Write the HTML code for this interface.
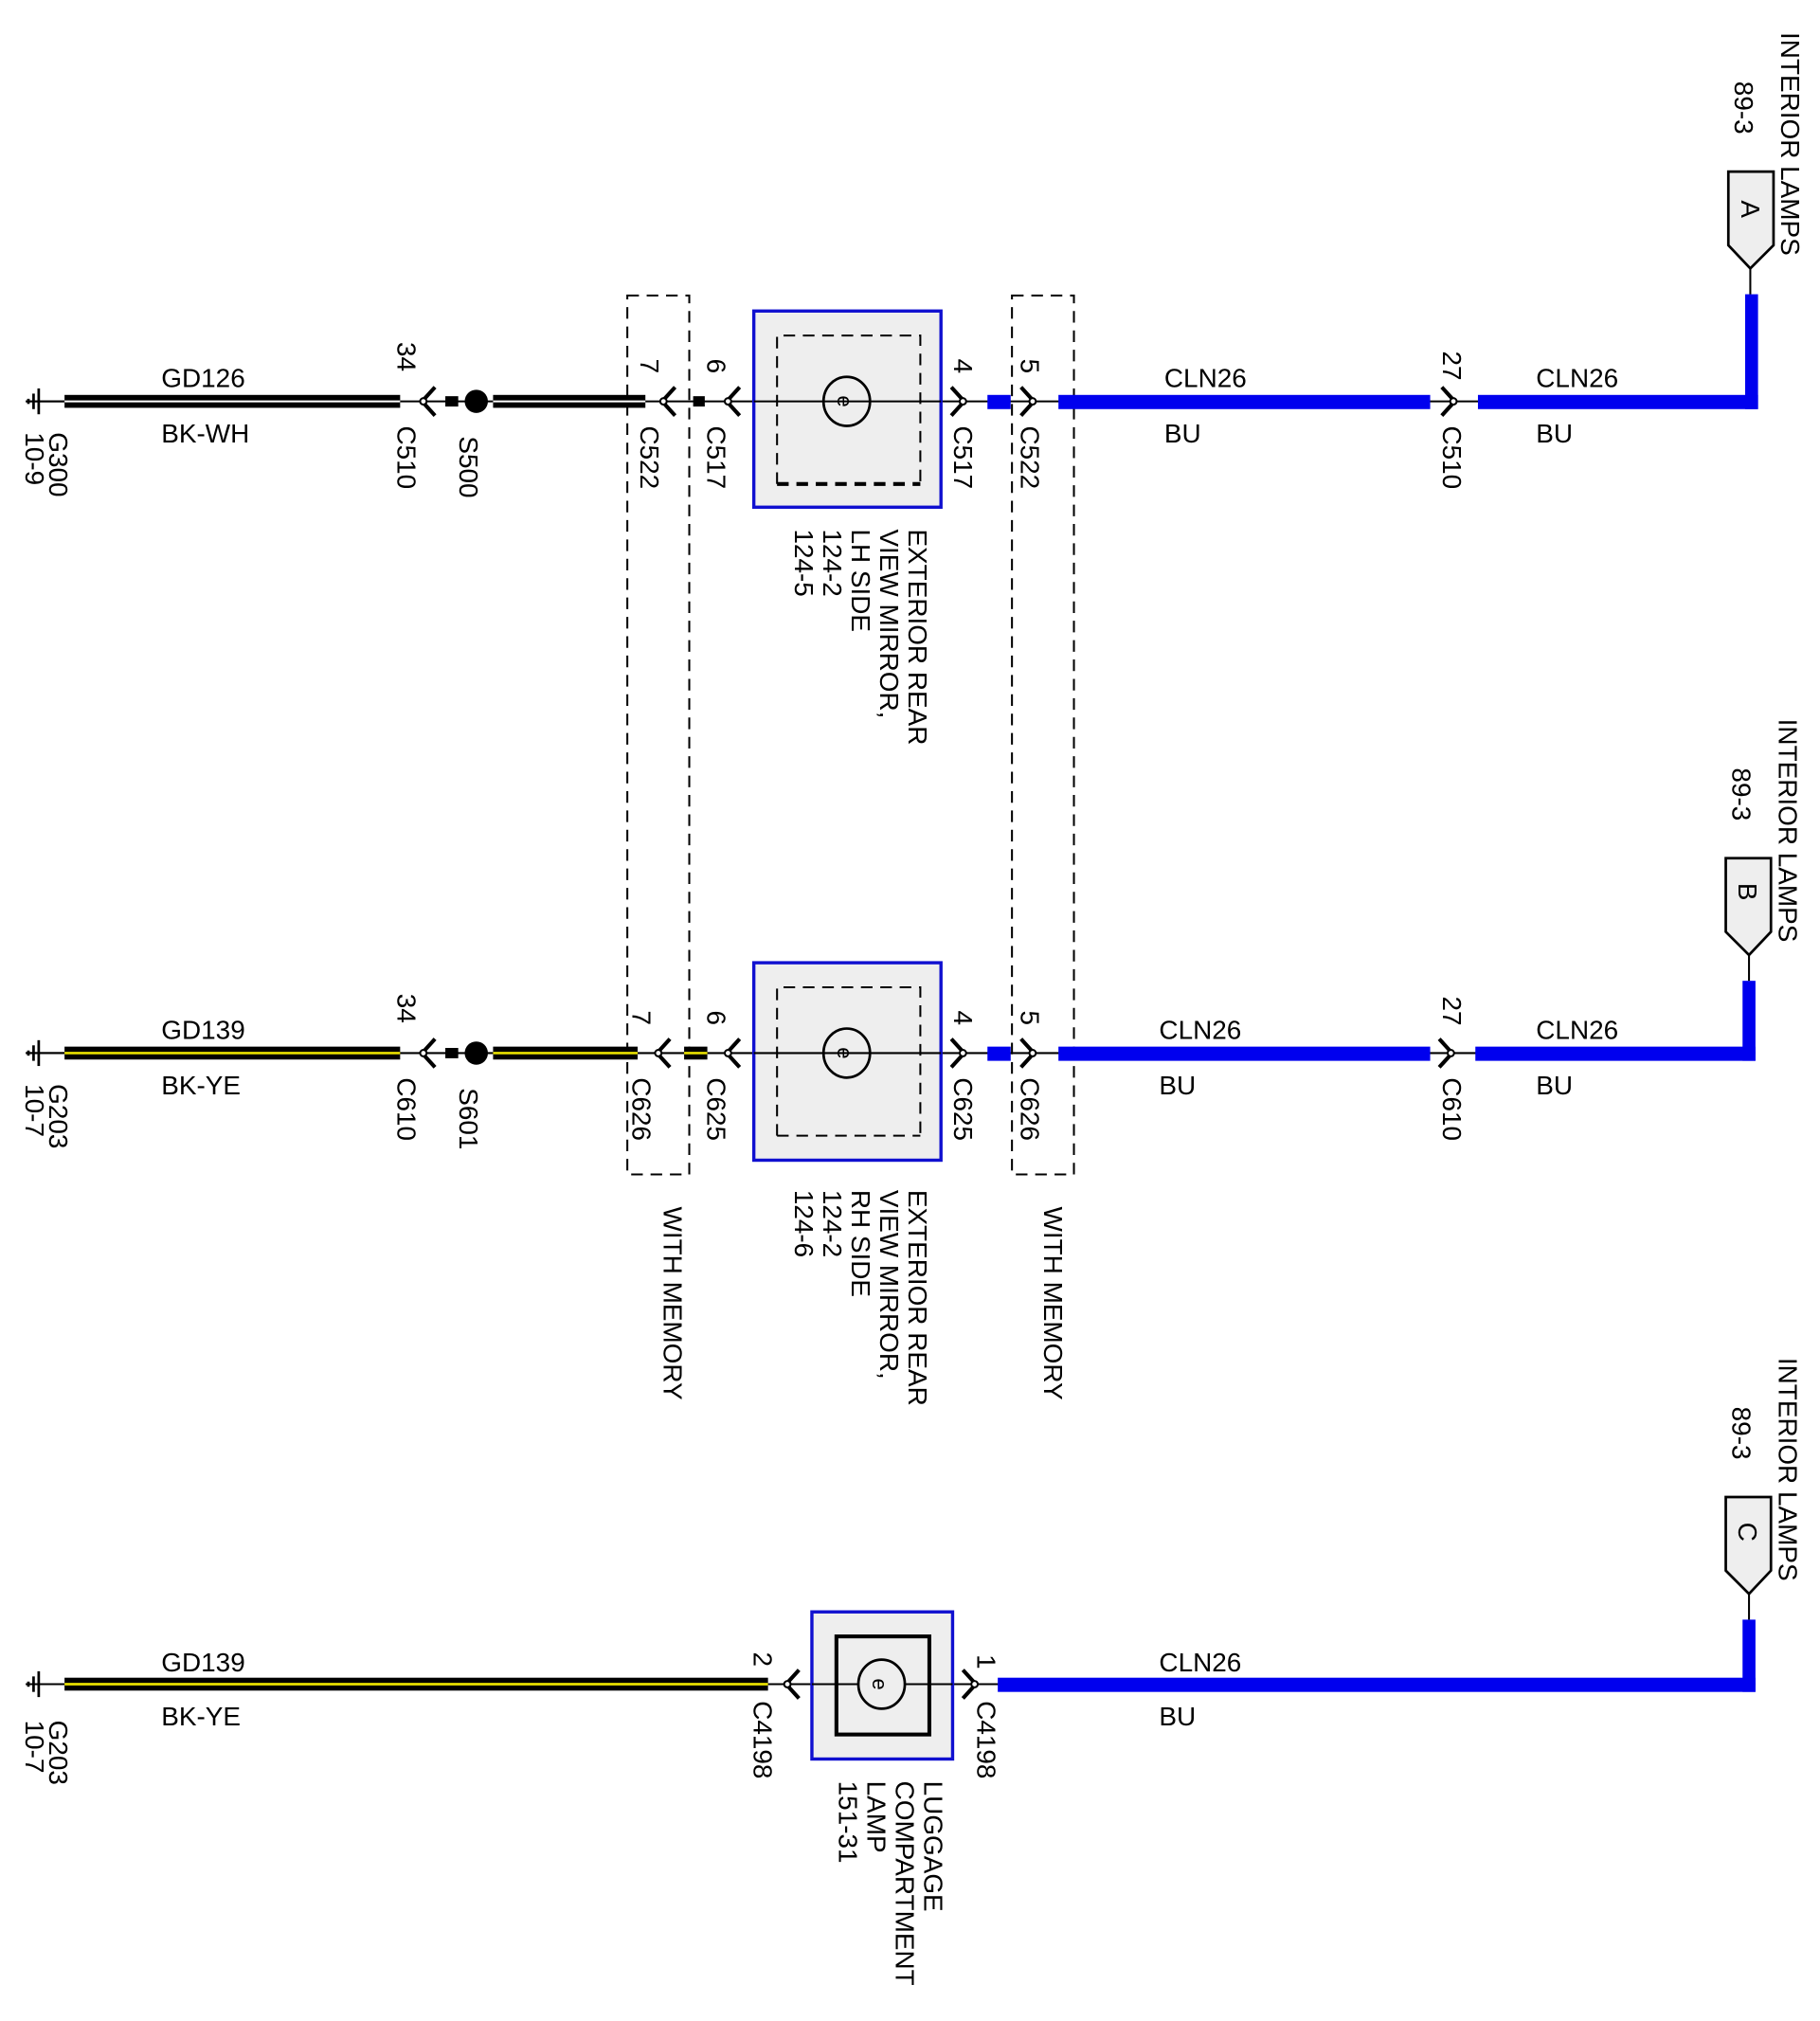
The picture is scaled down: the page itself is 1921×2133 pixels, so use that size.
<!DOCTYPE html>
<html><head><meta charset="utf-8"><style>
html,body{margin:0;padding:0;background:#fff;}
svg{display:block;}
text{font-family:"Liberation Sans",Arial,sans-serif;font-size:20.5px;fill:#000;}
</style></head><body>
<svg width="1921" height="2133" viewBox="0 0 1410 1566" preserveAspectRatio="none" xmlns="http://www.w3.org/2000/svg">
<defs>
<g id="chL"><path d="M9,-11 L-1,0 L9,11" fill="none" stroke="#000" stroke-width="3"/><circle cx="0" cy="0" r="2.5" fill="#fff" stroke="#000" stroke-width="1.5"/></g>
<g id="chR"><path d="M-9,-11 L1,0 L-9,11" fill="none" stroke="#000" stroke-width="3"/><circle cx="0" cy="0" r="2.5" fill="#fff" stroke="#000" stroke-width="1.5"/></g>
<g id="gnd"><line x1="20" y1="0" x2="50" y2="0" stroke="#000" stroke-width="1.5"/><line x1="30" y1="-10" x2="30" y2="10" stroke="#000" stroke-width="2"/><line x1="26" y1="-6" x2="26" y2="6" stroke="#000" stroke-width="2"/><line x1="22" y1="-2" x2="22" y2="2" stroke="#000" stroke-width="2"/></g>
</defs>

<rect x="486" y="229" width="48" height="681" fill="none" stroke="#000" stroke-width="1.5" stroke-dasharray="9,6"/>
<rect x="784" y="229" width="48" height="681" fill="none" stroke="#000" stroke-width="1.5" stroke-dasharray="9,6"/>

<!-- ROW 1 -->
<use href="#gnd" x="0" y="311"/>
<line x1="20" y1="311" x2="1360" y2="311" stroke="#000" stroke-width="1.5"/>
<rect x="50" y="306" width="260" height="10" fill="#000"/><line x1="50" y1="311" x2="310" y2="311" stroke="#fff" stroke-width="1.5"/>
<rect x="345" y="307" width="10" height="8" fill="#000"/>
<circle cx="369" cy="311" r="9" fill="#000"/>
<rect x="382" y="306" width="118" height="10" fill="#000"/><line x1="382" y1="311" x2="500" y2="311" stroke="#fff" stroke-width="1.5"/>
<rect x="537" y="307" width="9" height="8" fill="#000"/>
<use href="#chL" x="328" y="311"/><use href="#chL" x="514" y="311"/><use href="#chL" x="564" y="311"/>
<rect x="584" y="241" width="145" height="152" fill="#eeeeee" stroke="#1010d0" stroke-width="2.5"/>
<path d="M602,375 V260 H713 V375" fill="none" stroke="#000" stroke-width="1.5" stroke-dasharray="9,6"/>
<line x1="602" y1="375" x2="713" y2="375" stroke="#000" stroke-width="3" stroke-dasharray="9,6"/>
<line x1="584" y1="311" x2="729" y2="311" stroke="#000" stroke-width="1.5"/>
<ellipse cx="656" cy="311" rx="18" ry="19" fill="none" stroke="#000" stroke-width="2"/>
<text transform="translate(649,311) rotate(90)" text-anchor="middle" style="font-size:16px">e</text>
<use href="#chR" x="746" y="311"/>
<rect x="765" y="306" width="18" height="11" fill="#0000ee"/>
<use href="#chR" x="800" y="311"/>
<rect x="820" y="306" width="288" height="11" fill="#0000ee"/>
<use href="#chR" x="1126" y="311"/>
<rect x="1145" y="306" width="217" height="11" fill="#0000ee"/>
<rect x="1352" y="228" width="10" height="89" fill="#0000ee"/>
<line x1="1356" y1="208" x2="1356" y2="228" stroke="#000" stroke-width="1.5"/>
<polygon points="1339,133 1374,133 1374,190 1356,208 1339,190" fill="#eeeeee" stroke="#000" stroke-width="2"/>
<text transform="translate(1349,162) rotate(90)" text-anchor="middle">A</text>
<text transform="translate(1344,63) rotate(90)">89-3</text>
<text transform="translate(1380,25) rotate(90)">INTERIOR LAMPS</text>

<text x="125" y="300">GD126</text><text x="125" y="343">BK-WH</text>
<text x="902" y="300">CLN26</text><text x="902" y="343">BU</text>
<text x="1190" y="300">CLN26</text><text x="1190" y="343">BU</text>
<text transform="translate(38,335) rotate(90)">G300</text>
<text transform="translate(20,335) rotate(90)">10-9</text>
<text transform="translate(308,265) rotate(90)">34</text>
<text transform="translate(308,330) rotate(90)">C510</text>
<text transform="translate(356,338) rotate(90)">S500</text>
<text transform="translate(496,278) rotate(90)">7</text>
<text transform="translate(496,330) rotate(90)">C522</text>
<text transform="translate(548,278) rotate(90)">6</text>
<text transform="translate(548,330) rotate(90)">C517</text>
<text transform="translate(739,278) rotate(90)">4</text>
<text transform="translate(739,330) rotate(90)">C517</text>
<text transform="translate(791,278) rotate(90)">5</text>
<text transform="translate(791,330) rotate(90)">C522</text>
<text transform="translate(1118,272) rotate(90)">27</text>
<text transform="translate(1118,330) rotate(90)">C510</text>
<text transform="translate(704,410) rotate(90)">EXTERIOR REAR</text>
<text transform="translate(682,410) rotate(90)">VIEW MIRROR,</text>
<text transform="translate(660,410) rotate(90)">LH SIDE</text>
<text transform="translate(638,410) rotate(90)">124-2</text>
<text transform="translate(616,410) rotate(90)">124-5</text>

<!-- ROW 2 -->
<use href="#gnd" x="0" y="816"/>
<line x1="20" y1="816" x2="1360" y2="816" stroke="#000" stroke-width="1.5"/>
<rect x="50" y="811" width="260" height="10" fill="#000"/><line x1="50" y1="816" x2="310" y2="816" stroke="#e8e000" stroke-width="2"/>
<rect x="345" y="812" width="10" height="8" fill="#000"/>
<circle cx="369" cy="816" r="9" fill="#000"/>
<rect x="382" y="811" width="112" height="10" fill="#000"/><line x1="382" y1="816" x2="494" y2="816" stroke="#e8e000" stroke-width="2"/>
<rect x="530" y="811" width="18" height="10" fill="#000"/><line x1="530" y1="816" x2="548" y2="816" stroke="#e8e000" stroke-width="2"/>
<use href="#chL" x="328" y="816"/><use href="#chL" x="510" y="816"/><use href="#chL" x="564" y="816"/>
<rect x="584" y="746" width="145" height="153" fill="#eeeeee" stroke="#1010d0" stroke-width="2.5"/>
<path d="M602,880 V765 H713 V880" fill="none" stroke="#000" stroke-width="1.5" stroke-dasharray="9,6"/>
<line x1="602" y1="880" x2="713" y2="880" stroke="#000" stroke-width="1.5" stroke-dasharray="9,6"/>
<line x1="584" y1="816" x2="729" y2="816" stroke="#000" stroke-width="1.5"/>
<ellipse cx="656" cy="816" rx="18" ry="19" fill="none" stroke="#000" stroke-width="2"/>
<text transform="translate(649,816) rotate(90)" text-anchor="middle" style="font-size:16px">e</text>
<use href="#chR" x="746" y="816"/>
<rect x="765" y="811" width="18" height="11" fill="#0000ee"/>
<use href="#chR" x="800" y="816"/>
<rect x="820" y="811" width="288" height="11" fill="#0000ee"/>
<use href="#chR" x="1124" y="816"/>
<rect x="1143" y="811" width="217" height="11" fill="#0000ee"/>
<rect x="1350" y="760" width="10" height="62" fill="#0000ee"/>
<line x1="1355" y1="740" x2="1355" y2="760" stroke="#000" stroke-width="1.5"/>
<polygon points="1337,665 1372,665 1372,722 1355,740 1337,722" fill="#eeeeee" stroke="#000" stroke-width="2"/>
<text transform="translate(1347,691) rotate(90)" text-anchor="middle">B</text>
<text transform="translate(1342,595) rotate(90)">89-3</text>
<text transform="translate(1378,557) rotate(90)">INTERIOR LAMPS</text>

<text x="125" y="805">GD139</text><text x="125" y="848">BK-YE</text>
<text x="898" y="805">CLN26</text><text x="898" y="848">BU</text>
<text x="1190" y="805">CLN26</text><text x="1190" y="848">BU</text>
<text transform="translate(38,840) rotate(90)">G203</text>
<text transform="translate(20,840) rotate(90)">10-7</text>
<text transform="translate(308,770) rotate(90)">34</text>
<text transform="translate(308,835) rotate(90)">C610</text>
<text transform="translate(356,843) rotate(90)">S601</text>
<text transform="translate(490,783) rotate(90)">7</text>
<text transform="translate(490,835) rotate(90)">C626</text>
<text transform="translate(548,783) rotate(90)">6</text>
<text transform="translate(548,835) rotate(90)">C625</text>
<text transform="translate(739,783) rotate(90)">4</text>
<text transform="translate(739,835) rotate(90)">C625</text>
<text transform="translate(791,783) rotate(90)">5</text>
<text transform="translate(791,835) rotate(90)">C626</text>
<text transform="translate(1118,772) rotate(90)">27</text>
<text transform="translate(1118,835) rotate(90)">C610</text>
<text transform="translate(704,922) rotate(90)">EXTERIOR REAR</text>
<text transform="translate(682,922) rotate(90)">VIEW MIRROR,</text>
<text transform="translate(660,922) rotate(90)">RH SIDE</text>
<text transform="translate(638,922) rotate(90)">124-2</text>
<text transform="translate(616,922) rotate(90)">124-6</text>
<text transform="translate(514,935) rotate(90)">WITH MEMORY</text>
<text transform="translate(809,935) rotate(90)">WITH MEMORY</text>

<!-- ROW 3 -->
<use href="#gnd" x="0" y="1305"/>
<line x1="20" y1="1305" x2="1360" y2="1305" stroke="#000" stroke-width="1.5"/>
<rect x="50" y="1300" width="545" height="10" fill="#000"/><line x1="50" y1="1305" x2="595" y2="1305" stroke="#e8e000" stroke-width="2"/>
<use href="#chL" x="610" y="1305"/>
<rect x="629" y="1249" width="109" height="114" fill="#eeeeee" stroke="#1010d0" stroke-width="2.5"/>
<rect x="648" y="1268" width="72" height="76" fill="none" stroke="#000" stroke-width="3"/>
<line x1="629" y1="1305" x2="738" y2="1305" stroke="#000" stroke-width="1.5"/>
<ellipse cx="683" cy="1305" rx="18" ry="19" fill="#eeeeee" stroke="#000" stroke-width="2"/>
<text transform="translate(676,1305) rotate(90)" text-anchor="middle" style="font-size:16px">e</text>
<use href="#chR" x="755" y="1305"/>
<rect x="773" y="1300" width="587" height="11" fill="#0000ee"/>
<rect x="1350" y="1255" width="10" height="56" fill="#0000ee"/>
<line x1="1355" y1="1235" x2="1355" y2="1255" stroke="#000" stroke-width="1.5"/>
<polygon points="1337,1160 1372,1160 1372,1217 1355,1235 1337,1217" fill="#eeeeee" stroke="#000" stroke-width="2"/>
<text transform="translate(1347,1187) rotate(90)" text-anchor="middle">C</text>
<text transform="translate(1342,1090) rotate(90)">89-3</text>
<text transform="translate(1378,1052) rotate(90)">INTERIOR LAMPS</text>

<text x="125" y="1295">GD139</text><text x="125" y="1337">BK-YE</text>
<text x="898" y="1295">CLN26</text><text x="898" y="1337">BU</text>
<text transform="translate(38,1333) rotate(90)">G203</text>
<text transform="translate(20,1333) rotate(90)">10-7</text>
<text transform="translate(584,1280) rotate(90)">2</text>
<text transform="translate(584,1318) rotate(90)">C4198</text>
<text transform="translate(757,1282) rotate(90)">1</text>
<text transform="translate(757,1318) rotate(90)">C4198</text>
<text transform="translate(716,1380) rotate(90)">LUGGAGE</text>
<text transform="translate(694,1380) rotate(90)">COMPARTMENT</text>
<text transform="translate(672,1380) rotate(90)">LAMP</text>
<text transform="translate(650,1380) rotate(90)">151-31</text>
</svg>
</body></html>
